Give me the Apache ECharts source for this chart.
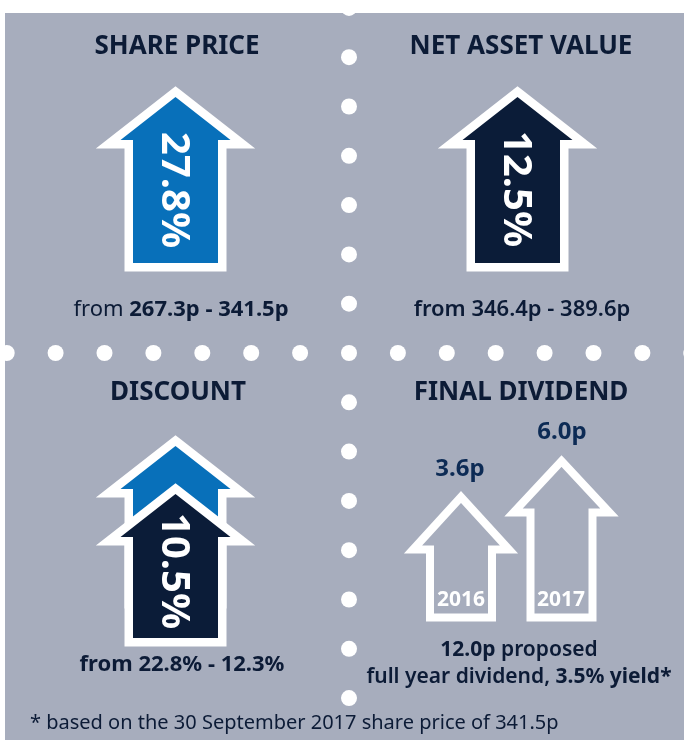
<!DOCTYPE html>
<html>
<head>
<meta charset="utf-8">
<script src="https://cdn.jsdelivr.net/npm/echarts@6/dist/echarts.min.js"></script>
<style>
html, body { margin: 0; padding: 0; background: #fff; }
#main { width: 684px; height: 740px; }
</style>
</head>
<body>
<div id="main"></div>
<script>
// values shown in the infographic
var panelTitles = ['SHARE PRICE', 'NET ASSET VALUE', 'DISCOUNT', 'FINAL DIVIDEND'];
var changeLabels = ['27.8%', '12.5%', '10.5%'];
var rangeFrom = ['267.3p', '346.4p', '22.8%'];
var rangeTo = ['341.5p', '389.6p', '12.3%'];
var dividendYears = ['2016', '2017'];
var dividendValues = ['3.6p', '6.0p'];
var fullYearDividend = '12.0p';
var dividendYield = '3.5%';
var footnote = '* based on the 30 September 2017 share price of 341.5p';

var myChart = echarts.init(document.getElementById('main'));

var FONT = '"Noto Sans", "Liberation Sans", sans-serif';
var navy = '#0c1b36';
var darkArrow = '#0b1c38';
var blueArrow = '#0870ba';
var panelBg = '#a7adbd';

// arrow outline: centre x, tip y, wing y, half widths, bottom y
function arrowPts(cx, tip, wingY, wingHalf, shaftHalf, bottom) {
    return [
        [cx, tip], [cx + wingHalf, wingY], [cx + shaftHalf, wingY],
        [cx + shaftHalf, bottom], [cx - shaftHalf, bottom],
        [cx - shaftHalf, wingY], [cx - wingHalf, wingY]
    ];
}

// solid arrow with a white border (border drawn first, fill on top)
function solidArrow(pts, color) {
    return [{
        type: 'polygon',
        shape: { points: pts },
        style: { fill: '#fff', stroke: '#fff', lineWidth: 17, lineJoin: 'miter', miterLimit: 10 }
    }, {
        type: 'polygon',
        shape: { points: pts },
        style: { fill: color }
    }];
}

function hollowArrow(pts) {
    return {
        type: 'polygon',
        shape: { points: pts },
        style: { fill: 'none', stroke: '#fff', lineWidth: 8, lineJoin: 'miter', miterLimit: 10 }
    };
}

function label(x, y, text, size, opts) {
    opts = opts || {};
    return {
        type: 'text',
        x: x, y: y,
        rotation: opts.rotation || 0,
        style: {
            text: text,
            fill: opts.color || navy,
            font: (opts.weight || 'bold') + ' ' + size + 'px ' + FONT,
            textAlign: opts.align || 'center',
            textVerticalAlign: 'middle',
            rich: opts.rich
        }
    };
}

function richStyles(size, color) {
    return {
        r: { fontSize: size, fontFamily: FONT, fontWeight: 'normal', fill: color },
        m: { fontSize: size, fontFamily: FONT, fontWeight: 600, fill: color },
        b: { fontSize: size, fontFamily: FONT, fontWeight: 'bold', fill: color }
    };
}

var els = [];

// grey panel
els.push({ type: 'rect', shape: { x: 5, y: 13, width: 679, height: 727 }, style: { fill: panelBg } });

// dotted separators
var cx0 = 349, cy0 = 353, gapX = 48.9, gapY = 49.3;
for (var k = -7; k <= 7; k++) {
    els.push({ type: 'circle', shape: { cx: cx0 + k * gapX, cy: cy0, r: 8 }, style: { fill: '#fff' } });
    if (k !== 0) {
        els.push({ type: 'circle', shape: { cx: cx0, cy: cy0 + k * gapY, r: 8 }, style: { fill: '#fff' } });
    }
}

// titles
els.push(label(177, 47, panelTitles[0], 26));
els.push(label(521, 47, panelTitles[1], 26));
els.push(label(178, 393, panelTitles[2], 26));
els.push(label(521, 393, panelTitles[3], 26));

// share price
els = els.concat(solidArrow(arrowPts(175.5, 97, 140, 55, 42.5, 263), blueArrow));
els.push(label(173, 190, changeLabels[0], 40, { color: '#fff', rotation: -Math.PI / 2 }));
els.push(label(181, 310, '{r|from }{b|' + rangeFrom[0] + ' - ' + rangeTo[0] + '}', 22, { rich: richStyles(22, navy) }));

// net asset value
els = els.concat(solidArrow(arrowPts(517.5, 97, 140, 55, 42.5, 263), darkArrow));
els.push(label(515, 189, changeLabels[1], 40, { color: '#fff', rotation: -Math.PI / 2 }));
els.push(label(522, 310, '{m|from ' + rangeFrom[1] + ' - ' + rangeTo[1] + '}', 22, { rich: richStyles(22, navy) }));

// discount
els = els.concat(solidArrow(arrowPts(175.5, 446, 489, 55, 42.5, 600), blueArrow));
els = els.concat(solidArrow(arrowPts(175.5, 494, 537, 55, 42.5, 638), darkArrow));
els.push(label(173, 571, changeLabels[2], 40, { color: '#fff', rotation: -Math.PI / 2 }));
els.push(label(182, 665, '{b|from ' + rangeFrom[2] + ' - ' + rangeTo[2] + '}', 22, { rich: richStyles(22, navy) }));

// final dividend
els.push(hollowArrow(arrowPts(461, 497, 549.5, 48, 31, 617.5)));
els.push(hollowArrow(arrowPts(561.5, 461, 512.5, 48, 31, 617.5)));
els.push(label(461, 600, dividendYears[0], 21, { color: '#fff' }));
els.push(label(561, 600, dividendYears[1], 21, { color: '#fff' }));
els.push(label(460, 469, dividendValues[0], 24, { color: '#0d2b55' }));
els.push(label(562, 432, dividendValues[1], 24, { color: '#0d2b55' }));
els.push(label(519, 650, '{b|' + fullYearDividend + '}{m| proposed}', 21, { rich: richStyles(21, navy) }));
els.push(label(519, 677, '{m|full year dividend, }{b|' + dividendYield + ' yield*}', 21, { rich: richStyles(21, navy) }));

// footnote
els.push(label(30, 723, footnote, 20, { weight: 'normal', align: 'left' }));

var option = {
    backgroundColor: '#fff',
    animation: false,
    graphic: { elements: els }
};

myChart.setOption(option);
window.addEventListener('resize', function () {
    myChart.resize();
});
</script>
</body>
</html>
